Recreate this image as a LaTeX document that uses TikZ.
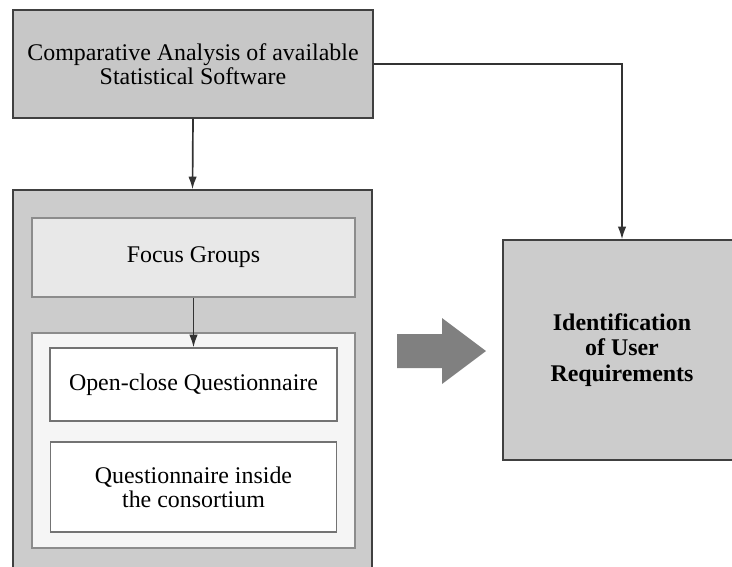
\documentclass[tikz,border=0pt]{standalone}
\usepackage{fontspec}
\setmainfont{Liberation Serif}
\usetikzlibrary{calc,positioning,arrows.meta}

\begin{document}
\begin{tikzpicture}[x=0.025cm,y=-0.025cm,
        greybox/.style={draw=black!75, line width=0.9pt, inner sep=0pt, align=center,
            font=\fontsize{17}{17}\selectfont},
        flowarrow/.style={draw=black!80, line width=1.2pt, -{Latex[length=9pt,width=6pt]}}]

        \useasboundingbox (0,0) rectangle (732,567);

        \coordinate (cComparePt) at (193,64);
        \coordinate (cSurveyPt) at (192.5,385);
        \coordinate (cFocusPt) at (193.5,257.5);
        \coordinate (cQuestPt) at (193.5,440.5);
        \coordinate (cOpenPt) at (193.5,384.5);
        \coordinate (cInsidePt) at (193.5,487);
        \coordinate (cUserPt) at (622,350);
        \coordinate (cArrowPt) at (397,351);

        % left column
        \node[greybox, fill=black!22, minimum width=9cm, minimum height=2.7cm] (nCompare) at (cComparePt)
            {Comparative Analysis of available\\Statistical Software};
        \node[greybox, fill=black!20, minimum width=8.975cm, minimum height=9.75cm] (nSurvey) at (cSurveyPt) {};
        \node[greybox, draw=black!45, fill=black!9, minimum width=8.075cm, minimum height=1.975cm] (nFocus) at (cFocusPt)
            {Focus Groups};
        \node[greybox, draw=black!45, fill=black!4, minimum width=8.075cm, minimum height=5.375cm] (nQuest) at (cQuestPt) {};
        \node[greybox, draw=black!55, fill=white, minimum width=7.175cm, minimum height=1.825cm] (nOpenClose) at (cOpenPt)
            {Open-close Questionnaire};
        \node[greybox, draw=black!55, fill=white, minimum width=7.15cm, minimum height=2.25cm] (nInside) at (cInsidePt)
            {Questionnaire inside\\the consortium};

        % right box
        \node[greybox, fill=black!20, minimum width=5.95cm, minimum height=5.5cm,
            font=\fontsize{17}{18}\selectfont\bfseries] (nUserReq) at (cUserPt)
            {Identification\\of User\\Requirements};

        \coordinate (cTurnPt) at (nCompare.east -| nUserReq.north);

        \draw[flowarrow] (nCompare.south) -- (nSurvey.north);
        \draw[flowarrow] (nFocus.south) -- (nOpenClose.north);
        \draw[flowarrow] (nCompare.east) -- (cTurnPt) -- (nUserReq.north);

        % fat arrow between the columns
        \def\fatarrowpath{-- +(0,-17) -- +(45,-17) -- +(45,-33) -- +(89,0) -- +(45,33) -- +(45,17) -- +(0,17) -- cycle}
        \fill[black!50] (cArrowPt) \fatarrowpath;

\end{tikzpicture}
\end{document}
